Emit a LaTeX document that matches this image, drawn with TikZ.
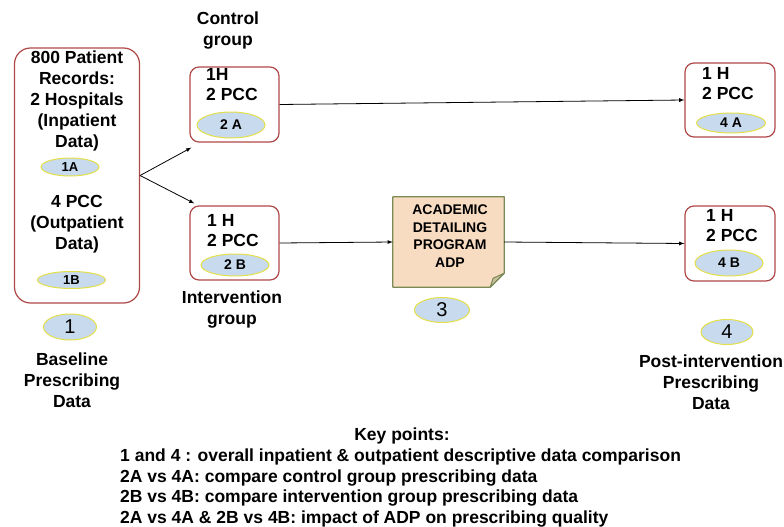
\documentclass[tikz,border=0pt]{standalone}
\usepackage{fontspec}
\setmainfont{Liberation Sans}
\usepackage{tikz}
\usetikzlibrary{positioning,shapes.geometric}

\definecolor{boxred}{HTML}{B04848}
\definecolor{tagblue}{HTML}{C8DBEE}
\definecolor{tagyellow}{HTML}{E4DF48}
\definecolor{notefill}{HTML}{F8DCC2}
\definecolor{noteedge}{HTML}{7A8A55}
\definecolor{foldfill}{HTML}{C9C09E}

\begin{document}
\begin{tikzpicture}[
    x=1pt, y=-1pt,
    grp/.style={rectangle, draw=boxred, line width=1.2pt, rounded corners=9pt, minimum width=89pt, minimum height=75pt},
    txt/.style={font=\fontsize{17.5}{21}\selectfont\bfseries, align=center, inner sep=0pt},
    inbox/.style={font=\fontsize{17.5}{20}\selectfont\bfseries, align=left, inner sep=0pt, anchor=west},
    tag/.style={ellipse, draw=tagyellow, line width=1pt, fill=tagblue, inner sep=0pt, minimum width=68pt, minimum height=22pt, font=\fontsize{14}{14}\selectfont\bfseries},
    num/.style={ellipse, draw=tagyellow, line width=1pt, fill=tagblue, inner sep=0pt, minimum width=53pt, minimum height=26pt, font=\fontsize{20}{20}\selectfont},
    arrow/.style={->, >=latex, line width=0.8pt}
]
\useasboundingbox (0,0) rectangle (784,527);

% Left column - baseline data
\node[grp, minimum width=125pt, minimum height=255pt, rounded corners=16pt] (base) at (77,175.5) {};
\node[txt] (basetxt1) at (77,101) {800 Patient\\Records:\\2 Hospitals\\(Inpatient\\Data)};
\node[tag, minimum width=58pt, minimum height=18pt, font=\fontsize{13}{13}\selectfont\bfseries] (tag1a) at (70,167) {1A};
\node[txt] (basetxt2) at (77,224) {4 PCC\\(Outpatient\\Data)};
\node[tag, minimum width=68pt, minimum height=17pt, font=\fontsize{13}{13}\selectfont\bfseries] (tag1b) at (71.5,280) {1B};
\node[num] (num1) at (70,327) {1};
\node[txt] (basecap) at (72,380) {Baseline\\Prescribing\\Data};

% Control group
\node[txt] (ctrlcap) at (228,31) {Control\\group};
\node[grp] (ctrl) at (234.5,104.5) {};
\node[inbox] (ctrltxt) at (206,85) {1H\\2 PCC};
\node[tag, minimum height=26pt] (tag2a) at (231,125) {2 A};

% Intervention group
\node[grp, minimum height=74pt] (interv) at (234.5,243) {};
\node[inbox] (intervtxt) at (207,230.5) {1 H\\2 PCC};
\node[tag] (tag2b) at (235,265) {2 B};
\node[txt] (intervcap) at (232,310) {Intervention\\group};

% Academic detailing program
\node[rectangle, minimum width=111pt, minimum height=90pt] (adp) at (448.5,242) {};
\filldraw[fill=notefill, draw=noteedge, line width=1.2pt, line join=round]
    (adp.north west) -- (adp.north east) -- ([yshift=14pt]adp.south east)
    -- ([xshift=-14pt]adp.south east) -- (adp.south west) -- cycle;
\filldraw[fill=foldfill, draw=noteedge, line width=1pt, line join=round]
    ([yshift=14pt]adp.south east) -- ([xshift=-14pt]adp.south east)
    -- ([shift={(-11pt,9pt)}]adp.south east) -- cycle;
\node[txt, font=\fontsize{14}{17.5}\selectfont\bfseries] (adptxt) at (450,236) {ACADEMIC\\DETAILING\\PROGRAM\\ADP};
\node[num, minimum width=55pt, minimum height=25pt] (num3) at (442,310) {3};

% Right column - post-intervention data
\node[grp, minimum width=90pt, minimum height=74pt] (fourA) at (730,100) {};
\node[inbox] (fourAtxt) at (702,84) {1 H\\2 PCC};
\node[tag, minimum width=69pt, minimum height=20pt] (tag4a) at (731,123) {4 A};

\node[grp, minimum width=90pt] (fourB) at (730,243.5) {};
\node[inbox] (fourBtxt) at (706,226) {1 H\\2 PCC};
\node[tag, minimum height=26pt] (tag4b) at (729,263) {4 B};
\node[num, minimum width=52pt, minimum height=25pt] (num4) at (727,332) {4};
\node[txt] (postcap) at (711,382) {Post-intervention\\Prescribing\\Data};

% Connectors
\draw[arrow] (base.east) -- ([shift={(2pt,-5pt)}]ctrl.south west);
\draw[arrow] (base.east) -- ([shift={(5pt,2pt)}]interv.north west);
\draw[arrow] (ctrl.east) -- (fourA.west);
\draw[arrow] (interv.east) -- (adp.west);
\draw[arrow] (adp.east) -- (fourB.west);

% Key points
\node[txt] (keyhead) at (402,436) {Key points:};
\node[txt, align=left, anchor=west, font=\fontsize{17.5}{20.5}\selectfont\bfseries] (keylist) at (120,488)
    {1 and 4 : overall inpatient \& outpatient descriptive data comparison\\
     2A vs 4A: compare control group prescribing data\\
     2B vs 4B: compare intervention group prescribing data\\
     2A vs 4A \& 2B vs 4B: impact of ADP on prescribing quality};

\end{tikzpicture}
\end{document}
